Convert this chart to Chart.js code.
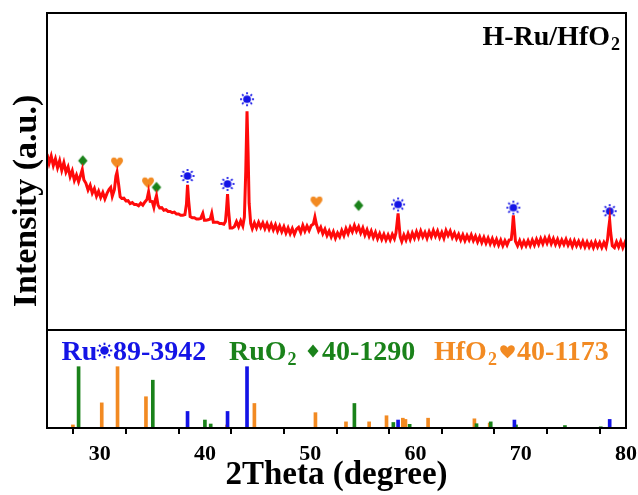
<!DOCTYPE html>
<html>
<head>
<meta charset="utf-8">
<script src="https://cdn.jsdelivr.net/npm/chart.js@4.4.1/dist/chart.umd.min.js"></script>
<style>
  html, body { margin: 0; padding: 0; background: #fff; }
  #wrap { width: 638px; height: 495px; }
</style>
</head>
<body>
<div id="wrap"><canvas id="xrdChart"></canvas></div>
<script>
// measured scan of H-Ru/HfO2 (2theta, intensity in a.u.)
const scanTheta = [
  25.00,25.20,25.40,25.60,25.80,26.00,26.20,26.40,26.60,26.80,27.00,27.20,27.40,27.60,27.80,28.00,28.20,28.35,28.50,28.70,
  28.90,29.10,29.30,29.50,29.70,29.90,30.10,30.30,30.50,30.70,30.90,31.05,31.20,31.40,31.55,31.65,31.80,31.95,32.10,32.30,
  32.50,32.70,32.90,33.10,33.30,33.50,33.70,33.90,34.10,34.30,34.50,34.65,34.80,35.00,35.15,35.30,35.40,35.55,35.70,35.90,
  36.10,36.30,36.50,36.70,36.90,37.10,37.30,37.50,37.70,37.90,38.10,38.25,38.35,38.45,38.60,38.80,39.00,39.20,39.40,39.60,
  39.80,39.95,40.10,40.30,40.50,40.65,40.80,41.00,41.20,41.40,41.60,41.80,41.95,42.05,42.15,42.25,42.40,42.60,42.80,43.00,
  43.20,43.40,43.60,43.75,43.88,44.00,44.10,44.20,44.35,44.50,44.70,44.90,45.10,45.30,45.50,45.70,45.90,46.10,46.30,46.50,
  46.70,46.90,47.10,47.30,47.50,47.70,47.90,48.10,48.30,48.50,48.70,48.90,49.10,49.30,49.50,49.70,49.90,50.10,50.30,50.45,
  50.60,50.80,51.00,51.20,51.40,51.60,51.80,52.00,52.20,52.40,52.60,52.80,53.00,53.20,53.40,53.60,53.80,54.00,54.20,54.40,
  54.60,54.80,55.00,55.20,55.40,55.60,55.80,56.00,56.20,56.40,56.60,56.80,57.00,57.20,57.40,57.60,57.80,58.00,58.15,58.25,
  58.35,58.45,58.55,58.70,58.90,59.10,59.30,59.50,59.70,59.90,60.10,60.30,60.50,60.70,60.90,61.10,61.30,61.50,61.70,61.90,
  62.10,62.30,62.50,62.70,62.90,63.10,63.30,63.50,63.70,63.90,64.10,64.30,64.50,64.70,64.90,65.10,65.30,65.50,65.70,65.90,
  66.10,66.30,66.50,66.70,66.90,67.10,67.30,67.50,67.70,67.90,68.10,68.30,68.50,68.70,68.90,69.10,69.20,69.30,69.40,69.50,
  69.70,69.90,70.10,70.30,70.50,70.70,70.90,71.10,71.30,71.50,71.70,71.90,72.10,72.30,72.50,72.70,72.90,73.10,73.30,73.50,
  73.70,73.90,74.10,74.30,74.50,74.70,74.90,75.10,75.30,75.50,75.70,75.90,76.10,76.30,76.50,76.70,76.90,77.10,77.30,77.50,
  77.70,77.90,78.10,78.25,78.35,78.45,78.55,78.70,78.90,79.10,79.30,79.50,79.70,79.90,80.00
];
const scanIntensity = [
  55.5,52.6,54.9,51.9,54.0,51.2,53.4,50.4,52.8,49.8,51.4,48.4,50.2,47.2,48.9,46.8,48.9,50.6,47.4,46.3,
  44.2,45.7,43.2,44.6,42.2,43.8,41.8,43.4,41.4,43.1,44.4,45.0,42.2,44.3,48.6,49.8,46.0,42.0,41.5,41.6,
  40.7,40.8,39.9,40.2,39.6,39.6,39.2,40.0,39.4,40.4,41.2,43.6,40.6,40.5,38.7,41.2,42.4,39.4,38.5,38.6,
  37.8,38.0,37.4,37.4,37.0,37.2,36.6,36.6,36.2,36.2,36.4,39.8,45.8,41.0,35.8,35.4,35.4,35.0,35.0,35.2,
  36.8,34.6,34.6,34.8,35.0,36.8,34.0,34.0,34.0,33.6,33.6,33.4,34.2,38.0,42.9,37.6,32.2,32.2,32.6,34.2,
  32.6,34.4,32.8,35.6,50.0,69.0,56.0,40.0,33.6,32.0,33.8,32.2,34.0,32.4,33.8,32.0,33.6,31.8,33.4,31.6,
  33.2,31.2,32.8,31.0,32.6,30.6,32.2,30.4,32.0,30.2,31.8,32.4,30.8,33.0,31.2,32.8,31.4,33.0,33.4,35.6,
  33.2,31.2,32.4,30.4,31.8,29.8,31.2,29.4,31.0,29.0,30.6,29.4,31.4,29.8,32.0,30.4,32.4,31.0,33.0,31.2,
  32.6,30.6,32.2,30.0,31.6,29.6,31.2,29.2,30.8,28.8,30.4,28.6,30.2,28.4,30.0,28.4,30.2,28.8,30.6,33.6,
  36.8,33.0,29.4,28.0,30.0,28.4,30.4,28.6,30.6,29.0,31.0,29.2,31.2,29.4,30.8,29.0,31.0,29.4,31.4,29.6,
  31.2,29.2,30.8,29.0,31.4,29.8,31.2,29.2,30.6,28.8,30.2,28.4,30.0,28.2,29.8,28.4,30.0,28.2,29.6,27.8,
  29.4,27.6,29.2,27.4,29.0,27.2,28.8,27.0,28.6,26.8,28.4,26.6,28.2,26.8,28.4,28.6,31.6,36.2,32.0,28.0,
  26.6,28.2,26.4,28.0,26.6,28.2,26.6,28.4,26.8,28.6,27.0,28.8,27.2,29.0,27.4,29.2,27.2,28.8,27.0,28.6,
  26.8,28.4,27.0,28.6,26.8,28.2,26.4,28.2,26.6,28.0,26.4,28.0,26.2,27.8,26.2,27.6,26.0,27.8,26.2,27.6,
  26.0,27.6,26.2,28.6,32.0,34.6,30.6,26.6,26.0,27.8,26.2,28.0,26.0,27.6,26.8
];

// phase markers above the peaks
const ruMarkTheta = [38.35, 42.15, 44.0, 58.35, 69.3, 78.45];
const ruMarkY = [48.6, 46.1, 72.8, 39.6, 38.6, 37.5];
const ruo2MarkTheta = [28.4, 35.4, 54.6];
const ruo2MarkY = [53.4, 45.0, 39.3];
const hfo2MarkTheta = [31.65, 34.6, 50.6];
const hfo2MarkY = [52.8, 46.5, 40.5];

// standard cards (relative intensity)
const ruRefTheta = [38.35, 42.15, 44.0, 58.35, 69.4, 78.45];
const ruRefInt = [27, 27, 100, 13, 13, 14];
const ruo2RefTheta = [28.0, 35.05, 40.0, 40.55, 54.2, 57.9, 59.45, 65.8, 67.15, 69.55, 74.2, 77.6];
const ruo2RefInt = [100, 78, 13, 6.5, 40, 9, 6, 7, 10, 5, 4, 2];
const hfo2RefTheta = [27.46, 30.2, 31.7, 34.4, 42.1, 44.7, 50.5, 53.4, 55.6, 57.25, 58.8, 59.05, 61.2, 65.6, 67.05];
const hfo2RefInt = [5, 41, 100, 51, 5, 40, 25, 10, 10, 20, 16, 14, 16, 15, 8];

const xMajorTicks = [30, 40, 50, 60, 70, 80];
const xMinorTicks = [25, 35, 45, 55, 65, 75];

const FONT = "'Liberation Serif', 'Times New Roman', serif";
const RED = '#ff0a0a', BLUE = '#1414e6', GREEN = '#1a821a', ORANGE = '#f28a22';

function drawSun(ctx, cx, cy, r, color) {
  ctx.save();
  ctx.fillStyle = color;
  ctx.strokeStyle = color;
  ctx.beginPath();
  ctx.arc(cx, cy, r * 0.55, 0, Math.PI * 2);
  ctx.fill();
  ctx.lineWidth = Math.max(1.6, r * 0.24);
  for (let k = 0; k < 8; k++) {
    const a = k * Math.PI / 4;
    ctx.beginPath();
    ctx.moveTo(cx + Math.cos(a) * r * 0.7, cy + Math.sin(a) * r * 0.7);
    ctx.lineTo(cx + Math.cos(a) * r, cy + Math.sin(a) * r);
    ctx.stroke();
  }
  ctx.restore();
}

function drawHeart(ctx, cx, cy, s, color) {
  ctx.save();
  ctx.fillStyle = color;
  ctx.beginPath();
  ctx.moveTo(cx, cy + s * 0.9);
  ctx.bezierCurveTo(cx - s * 0.6, cy + s * 0.35, cx - s * 1.05, cy - s * 0.05, cx - s * 0.95, cy - s * 0.45);
  ctx.bezierCurveTo(cx - s * 0.85, cy - s * 0.95, cx - s * 0.2, cy - s * 0.95, cx, cy - s * 0.5);
  ctx.bezierCurveTo(cx + s * 0.2, cy - s * 0.95, cx + s * 0.85, cy - s * 0.95, cx + s * 0.95, cy - s * 0.45);
  ctx.bezierCurveTo(cx + s * 1.05, cy - s * 0.05, cx + s * 0.6, cy + s * 0.35, cx, cy + s * 0.9);
  ctx.fill();
  ctx.restore();
}

function drawDiamond(ctx, cx, cy, w, h, color) {
  ctx.save();
  ctx.fillStyle = color;
  ctx.beginPath();
  ctx.moveTo(cx, cy - h / 2);
  ctx.lineTo(cx + w / 2, cy);
  ctx.lineTo(cx, cy + h / 2);
  ctx.lineTo(cx - w / 2, cy);
  ctx.closePath();
  ctx.fill();
  ctx.restore();
}

function makeIcon(size, draw) {
  const c = document.createElement('canvas');
  c.width = size;
  c.height = size;
  draw(c.getContext('2d'), size / 2, size / 2);
  return c;
}

const sunIcon = makeIcon(18, (g, cx, cy) => drawSun(g, cx, cy, 7, BLUE));
const diamondIcon = makeIcon(14, (g, cx, cy) => drawDiamond(g, cx, cy, 9.5, 11, GREEN));
const heartIcon = makeIcon(16, (g, cx, cy) => drawHeart(g, cx, cy, 6.2, ORANGE));

const pairs = (xs, ys) => xs.map((x, i) => ({ x: x, y: ys[i] }));

// frame + divider between the scan and the reference cards
const framePlugin = {
  id: 'framePlugin',
  afterDatasetsDraw(chart) {
    const { ctx, chartArea: a, scales } = chart;
    const yMid = scales.y.getPixelForValue(0);
    ctx.save();
    ctx.strokeStyle = '#000';
    ctx.lineWidth = 2;
    ctx.strokeRect(a.left, a.top, a.right - a.left, a.bottom - a.top);
    ctx.beginPath();
    ctx.moveTo(a.left, yMid);
    ctx.lineTo(a.right, yMid);
    ctx.stroke();
    ctx.restore();
  }
};

// chemical formula with a lowered "2", returns end x
function formula(ctx, text, x, y, size) {
  ctx.font = 'bold ' + size + 'px ' + FONT;
  ctx.fillText(text, x, y);
  const w = ctx.measureText(text).width;
  ctx.font = 'bold ' + Math.round(size * 0.64) + 'px ' + FONT;
  ctx.fillText('2', x + w + 1, y + 5);
  return x + w + 1 + ctx.measureText('2').width;
}

// texts: y title, sample name, card legend
const labelPlugin = {
  id: 'labelPlugin',
  afterDraw(chart) {
    const ctx = chart.ctx;
    ctx.save();
    ctx.fillStyle = '#000';
    ctx.textBaseline = 'alphabetic';

    ctx.save();
    ctx.translate(36, 201);
    ctx.rotate(-Math.PI / 2);
    ctx.textAlign = 'center';
    ctx.font = 'bold 34px ' + FONT;
    ctx.fillText('Intensity (a.u.)', 0, 0);
    ctx.restore();

    // sample name, right aligned
    ctx.textAlign = 'left';
    ctx.font = 'bold 28px ' + FONT;
    const wMain = ctx.measureText('H-Ru/HfO').width;
    ctx.font = 'bold 18px ' + FONT;
    const wSub = ctx.measureText('2').width;
    formula(ctx, 'H-Ru/HfO', 620 - wMain - wSub - 1, 45, 28);

    // card legend
    const big = 'bold 28px ' + FONT;
    ctx.font = big;
    ctx.fillStyle = BLUE;
    ctx.fillText('Ru', 61.5, 360);
    drawSun(ctx, 104.5, 350.5, 7.8, BLUE);
    ctx.fillText('89-3942', 113, 360);

    ctx.fillStyle = GREEN;
    formula(ctx, 'RuO', 229, 360, 28);
    drawDiamond(ctx, 313, 351, 11, 13, GREEN);
    ctx.font = big;
    ctx.fillText('40-1290', 322, 360);

    ctx.fillStyle = ORANGE;
    formula(ctx, 'HfO', 434, 360, 28);
    drawHeart(ctx, 507.5, 351.5, 7.6, ORANGE);
    ctx.font = big;
    ctx.fillText('40-1173', 517, 360);
    ctx.restore();
  }
};

const stickStyle = { type: 'bar', yAxisID: 'y2', barThickness: 3, grouped: false, borderWidth: 0 };

const xrdChart = new Chart(document.getElementById('xrdChart').getContext('2d'), {
  type: 'scatter',
  data: {
    datasets: [
      {
        label: 'H-Ru/HfO2',
        data: pairs(scanTheta, scanIntensity),
        showLine: true,
        borderColor: RED,
        borderWidth: 3,
        pointRadius: 0,
        tension: 0,
        yAxisID: 'y'
      },
      { label: 'Ru', data: pairs(ruMarkTheta, ruMarkY), pointStyle: sunIcon, yAxisID: 'y' },
      { label: 'RuO2', data: pairs(ruo2MarkTheta, ruo2MarkY), pointStyle: diamondIcon, yAxisID: 'y' },
      { label: 'HfO2', data: pairs(hfo2MarkTheta, hfo2MarkY), pointStyle: heartIcon, yAxisID: 'y' },
      Object.assign({ label: 'Ru 89-3942', data: pairs(ruRefTheta, ruRefInt), backgroundColor: BLUE }, stickStyle),
      Object.assign({ label: 'RuO2 40-1290', data: pairs(ruo2RefTheta, ruo2RefInt), backgroundColor: GREEN }, stickStyle),
      Object.assign({ label: 'HfO2 40-1173', data: pairs(hfo2RefTheta, hfo2RefInt), backgroundColor: ORANGE }, stickStyle)
    ]
  },
  options: {
    responsive: true,
    maintainAspectRatio: false,
    animation: false,
    layout: { padding: { left: 47, top: 13, right: 12, bottom: 0 } },
    scales: {
      x: {
        type: 'linear',
        min: 25,
        max: 80,
        offset: false,
        afterBuildTicks: (axis) => {
          axis.ticks = xMinorTicks.concat(xMajorTicks).sort((a, b) => a - b).map(v => ({ value: v }));
        },
        afterFit: (scale) => {
          scale.height = 67;
          scale.paddingLeft = 0;
          scale.paddingRight = 0;
        },
        ticks: {
          autoSkip: false,
          maxRotation: 0,
          padding: 7,
          color: '#000',
          font: { family: FONT, size: 22, weight: 'bold' },
          callback: (v) => xMajorTicks.includes(v) ? String(v) : ''
        },
        grid: { display: true, drawOnChartArea: false, drawTicks: true, tickLength: 6, tickColor: '#000', lineWidth: 2 },
        border: { display: false },
        title: {
          display: true,
          text: '2Theta (degree)',
          color: '#000',
          font: { family: FONT, size: 33, weight: 'bold' },
          padding: { top: 0, bottom: 0 }
        }
      },
      y: { display: false, min: -30.9, max: 100 },
      y2: { display: false, min: 0, max: 677 }
    },
    plugins: {
      legend: { display: false },
      tooltip: { enabled: false }
    }
  },
  plugins: [framePlugin, labelPlugin]
});
</script>
</body>
</html>
